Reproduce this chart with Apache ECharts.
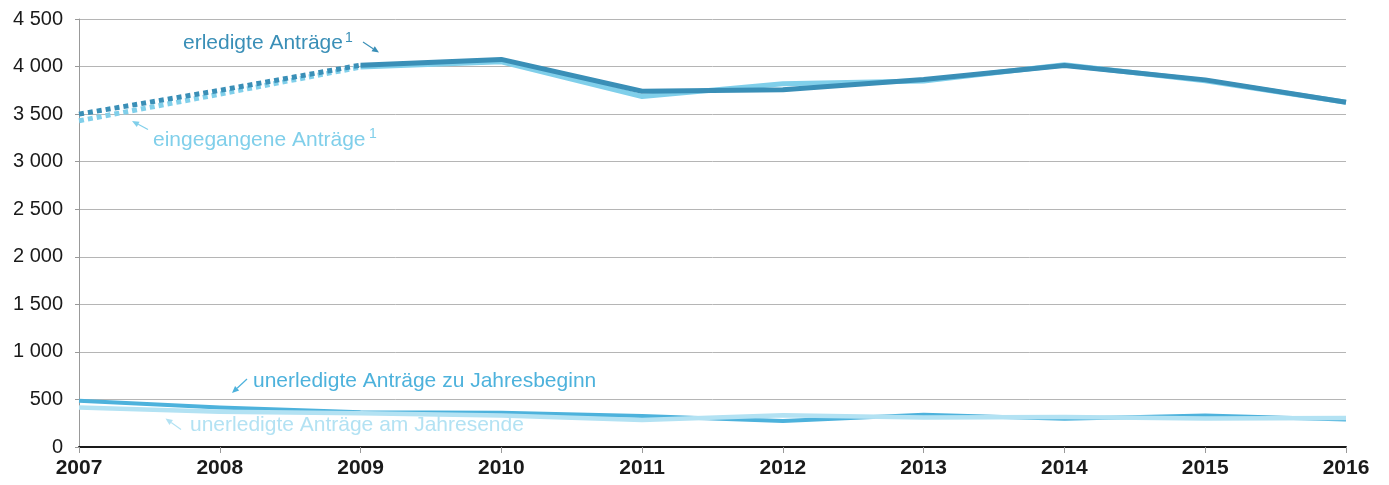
<!DOCTYPE html>
<html>
<head>
<meta charset="utf-8">
<script src="https://cdn.jsdelivr.net/npm/echarts@6/dist/echarts.min.js"></script>
<style>
  html, body { margin: 0; padding: 0; background: #fff; }
  #chart { width: 1389px; height: 485px; }
</style>
</head>
<body>
<div id="chart"></div>
<script>
// Jahre und Werte
var years = ['2007', '2008', '2009', '2010', '2011', '2012', '2013', '2014', '2015', '2016'];
var erledigt = [3500, 3750, 4015, 4075, 3740, 3755, 3865, 4010, 3860, 3625];
var eingegangen = [3430, 3710, 3995, 4050, 3685, 3820, 3848, 4020, 3850, 3625];
var unerledigtBeginn = [485, 415, 365, 360, 326, 274, 340, 296, 330, 288];
var unerledigtEnde = [415, 370, 355, 330, 284, 335, 310, 316, 300, 305];
var yTicks = [0, 500, 1000, 1500, 2000, 2500, 3000, 3500, 4000, 4500];

var cDark = '#3a8fb7';
var cLight = '#80cfea';
var cLowDark = '#4db2dc';
var cLowLight = '#b3e2f3';
var font = '"Liberation Sans", Arial, sans-serif';

// 2007-2009 gepunktet, ab 2009 durchgezogen
function dottedPart(arr) {
  return arr.map(function (v, i) { return i <= 2 ? v : null; });
}
function solidPart(arr) {
  return arr.map(function (v, i) { return i >= 2 ? v : null; });
}

function lineSeries(name, data, color, width, dash) {
  return {
    name: name,
    type: 'line',
    data: data,
    symbol: 'none',
    connectNulls: false,
    lineStyle: { color: color, width: width, type: dash || 'solid', cap: 'butt', join: 'round' },
    silent: true,
    animation: false
  };
}

function arrow(x1, y1, x2, y2, color) {
  var a = Math.atan2(y2 - y1, x2 - x1);
  var len = 7, w = 3;
  var bx = x2 - len * Math.cos(a), by = y2 - len * Math.sin(a);
  return [
    { type: 'line', silent: true, z: 10,
      shape: { x1: x1, y1: y1, x2: bx, y2: by },
      style: { stroke: color, lineWidth: 1.2 } },
    { type: 'polygon', silent: true, z: 10,
      shape: { points: [[x2, y2], [bx + w * Math.sin(a), by - w * Math.cos(a)], [bx - w * Math.sin(a), by + w * Math.cos(a)]] },
      style: { fill: color } }
  ];
}

function label(x, y, text, color, size, va) {
  return {
    type: 'text', silent: true, z: 10, x: x, y: y,
    style: { text: text, fill: color, fontSize: size || 21, fontFamily: font, align: 'left', verticalAlign: va || 'middle' }
  };
}

var chart = echarts.init(document.getElementById('chart'));

var option = {
  animation: false,
  grid: { left: 79, right: 43, top: 19, bottom: 38 },
  xAxis: {
    type: 'category',
    data: years,
    boundaryGap: false,
    axisLine: { show: true, lineStyle: { color: '#1a1a1a', width: 2 } },
    axisTick: { show: true, alignWithLabel: true, length: 6, lineStyle: { color: '#999' } },
    axisLabel: { color: '#1a1a1a', fontSize: 21, fontWeight: 'bold', fontFamily: font, margin: 11, showMinLabel: true, showMaxLabel: true },
    splitLine: { show: false }
  },
  yAxis: {
    type: 'value',
    min: yTicks[0],
    max: yTicks[yTicks.length - 1],
    interval: 500,
    axisLine: { show: true, lineStyle: { color: '#999', width: 1 } },
    axisTick: { show: true, length: 4, lineStyle: { color: '#999' } },
    axisLabel: {
      color: '#1a1a1a', fontSize: 20, fontFamily: font, margin: 16,
      formatter: function (v) { return String(v).replace(/\B(?=(\d{3})+(?!\d))/g, ' '); }
    },
    splitLine: { show: true, lineStyle: { color: '#b5b5b5', width: 1 } }
  },
  series: [
    lineSeries('unerledigte Anträge zu Jahresbeginn', unerledigtBeginn, cLowDark, 4),
    lineSeries('unerledigte Anträge am Jahresende', unerledigtEnde, cLowLight, 4.5),
    lineSeries('eingegangene Anträge (geschätzt)', dottedPart(eingegangen), cLight, 5, [5, 4]),
    lineSeries('eingegangene Anträge', solidPart(eingegangen), cLight, 5),
    lineSeries('erledigte Anträge (geschätzt)', dottedPart(erledigt), cDark, 5, [5, 4]),
    lineSeries('erledigte Anträge', solidPart(erledigt), cDark, 5)
  ],
  graphic: [
    label(183, 43, 'erledigte Anträge', cDark),
    label(345, 31, '1', cDark, 14, 'top'),
    label(153, 140, 'eingegangene Anträge', cLight),
    label(369, 127, '1', cLight, 14, 'top'),
    label(253, 381, 'unerledigte Anträge zu Jahresbeginn', cLowDark),
    label(190, 425, 'unerledigte Anträge am Jahresende', cLowLight)
  ].concat(
    arrow(363, 42, 379, 52.5, cDark),
    arrow(148, 129.5, 132, 121, cLight),
    arrow(247, 379, 232, 393, cLowDark),
    arrow(181, 429.5, 165.5, 418.5, cLowLight)
  )
};

chart.setOption(option);
</script>
</body>
</html>
